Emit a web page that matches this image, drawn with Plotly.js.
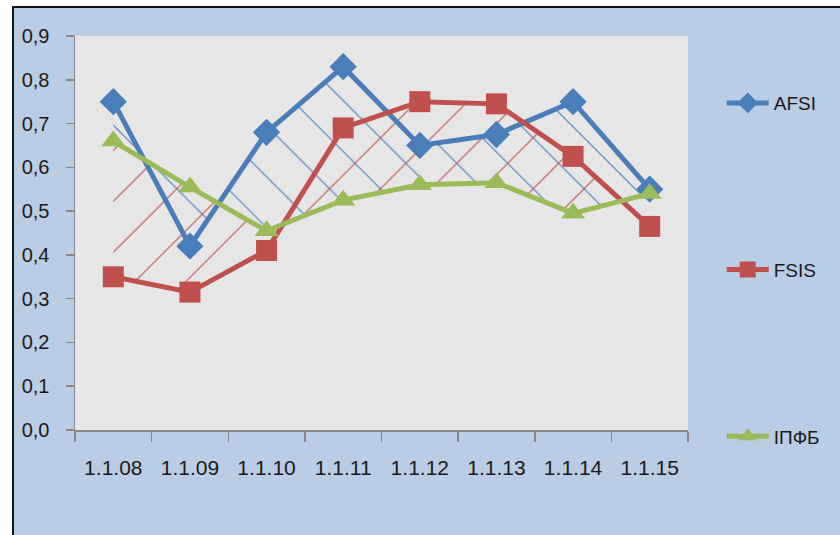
<!DOCTYPE html>
<html>
<head>
<meta charset="utf-8">
<script src="https://cdn.plot.ly/plotly-3.0.1.min.js"></script>
<style>
  html, body { margin: 0; padding: 0; background: #ffffff; }
  #frame { position: absolute; left: 12px; top: 6px; width: 828px; height: 529px;
           background: #B9CDE5; border-left: 2px solid #111; border-top: 2px solid #111; box-sizing: border-box; }
  #chart { position: absolute; left: 0; top: 0; width: 840px; height: 535px; }
</style>
</head>
<body>
<div id="frame"></div>
<div id="chart"></div>
<script>
const categories = ['1.1.08', '1.1.09', '1.1.10', '1.1.11', '1.1.12', '1.1.13', '1.1.14', '1.1.15'];
const afsi = [0.75, 0.42, 0.68, 0.83, 0.65, 0.675, 0.75, 0.55];
const fsis = [0.35, 0.315, 0.41, 0.69, 0.75, 0.745, 0.625, 0.465];
const ipfb = [0.66, 0.555, 0.455, 0.525, 0.56, 0.565, 0.495, 0.54];
const seriesNames = ['AFSI', 'FSIS', 'ІПФБ'];

const blue = '#4A7EBB', red = '#C0504D', green = '#9BBB59';

function baseline() {
  return { x: categories, y: ipfb, type: 'scatter', mode: 'lines', line: { width: 0 },
           showlegend: false, hoverinfo: 'skip' };
}
function hatch(y, shape, col) {
  return { x: categories, y: y, type: 'scatter', mode: 'lines', line: { width: 0 },
           fill: 'tonexty', fillcolor: 'rgba(0,0,0,0)',
           fillpattern: { shape: shape, fgcolor: col, bgcolor: 'rgba(0,0,0,0)', size: 36, solidity: 0.032 },
           showlegend: false, hoverinfo: 'skip' };
}
function series(y, name, col, symbol, group) {
  return { x: categories, y: y, name: name, type: 'scatter', mode: 'lines+markers',
           legendgroup: group,
           line: { color: col, width: 5 },
           marker: { color: col, symbol: symbol, size: 21 } };
}

const data = [
  baseline(), hatch(afsi, '\\', blue),
  baseline(), hatch(fsis, '/', red),
  series(afsi, seriesNames[0], blue, 'diamond', 'g1'),
  series(fsis, seriesNames[1], red, 'square', 'g2'),
  series(ipfb, seriesNames[2], green, 'triangle-up', 'g3')
];

const layout = {
  width: 840, height: 535,
  margin: { l: 75, r: 152, t: 36, b: 105 },
  paper_bgcolor: 'rgba(0,0,0,0)',
  plot_bgcolor: '#E6E6E6',
  separators: ', ',
  font: { family: 'Liberation Sans, Arial, sans-serif', color: '#1a1a1a', size: 20 },
  xaxis: {
    type: 'category', tickson: 'boundaries', ticks: 'outside', ticklen: 10, tickwidth: 1.5,
    tickcolor: '#868686', showline: true, linecolor: '#868686', linewidth: 1.5,
    showgrid: false, zeroline: false, range: [-0.5, 7.5], ticklabelstandoff: 18,
    tickfont: { size: 21 }
  },
  yaxis: {
    range: [0, 0.9], dtick: 0.1, tick0: 0, tickformat: '.1f', ticks: 'outside', ticklen: 8,
    tickwidth: 1.5, tickcolor: '#868686', showline: true, linecolor: '#868686', linewidth: 1.5,
    showgrid: false, zeroline: false, ticklabelstandoff: 12, tickfont: { size: 20 }
  },
  showlegend: true,
  legend: {
    x: 1.055, xanchor: 'left', y: 0.878, yanchor: 'top', itemwidth: 42,
    bgcolor: 'rgba(0,0,0,0)', traceorder: 'grouped', tracegroupgap: 139,
    font: { family: 'Liberation Sans Narrow, Liberation Sans, sans-serif', size: 19, color: '#1a1a1a' }
  }
};

Plotly.newPlot('chart', data, layout, { displayModeBar: false, staticPlot: true });
</script>
</body>
</html>
